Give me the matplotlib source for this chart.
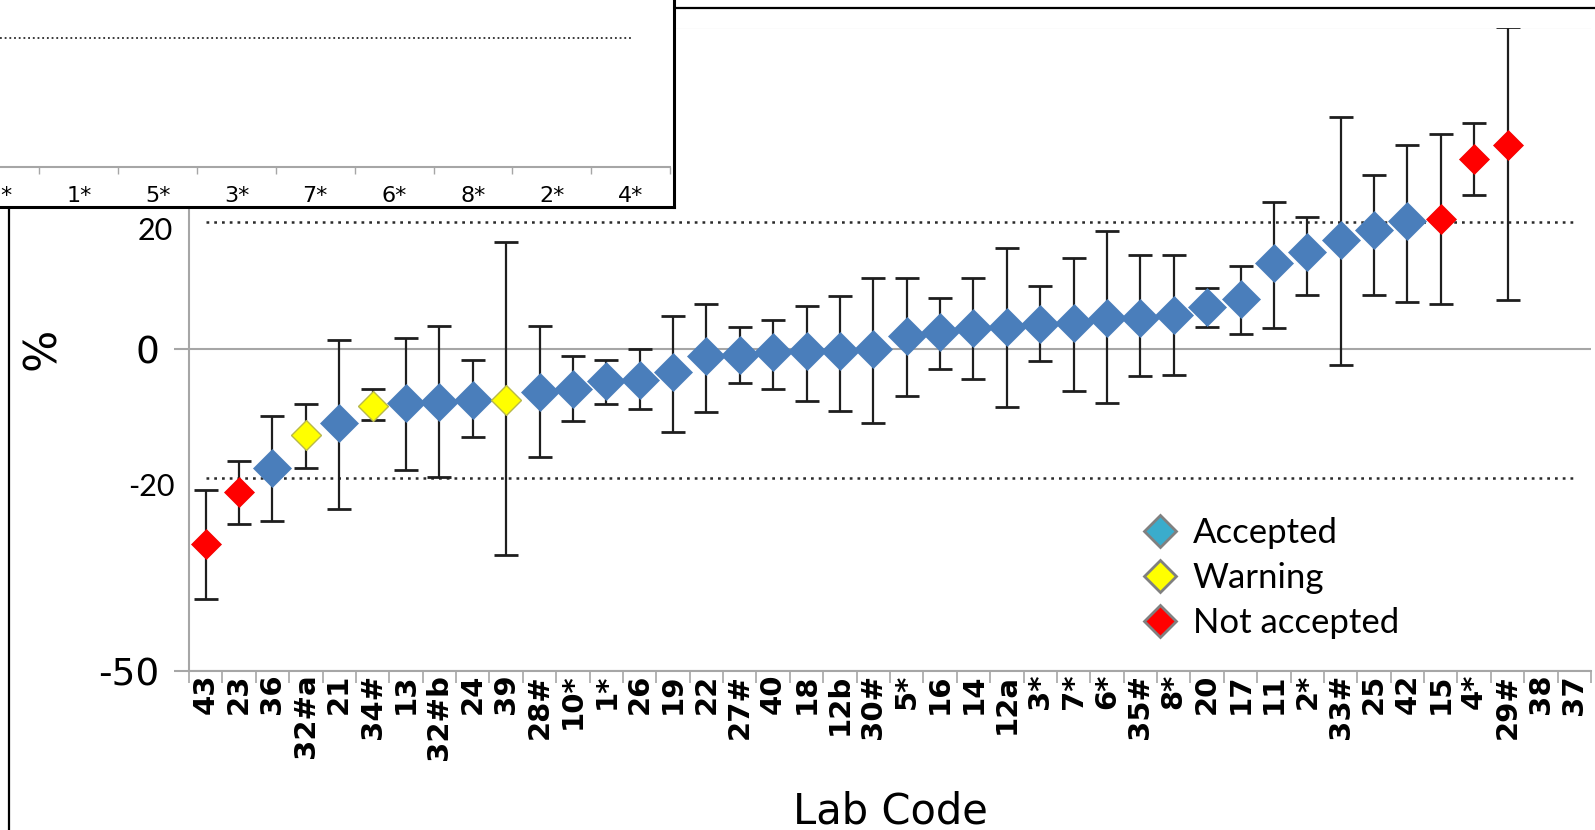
import numpy as np
import matplotlib.pyplot as plt
from matplotlib.lines import Line2D
from matplotlib.patches import Rectangle
from matplotlib.transforms import blended_transform_factory

W, H = 1595, 830

# ---- data ----
lab_codes = ["43", "23", "36", "32#a", "21", "34#", "13", "32#b", "24", "39",
             "28#", "10*", "1*", "26", "19", "22", "27#", "40", "18", "12b",
             "30#", "5*", "16", "14", "12a", "3*", "7*", "6*", "35#", "8*",
             "20", "17", "11", "2*", "33#", "25", "42", "15", "4*", "29#",
             "38", "37"]
deviation = [-30.3, -22.2, -18.5, -13.4, -11.5, -8.8, -8.4, -8.2, -7.9, -7.9,
             -6.6, -6.1, -4.9, -4.8, -3.5, -1.0, -0.9, -0.5, -0.2, -0.3,
             0.0, 2.1, 2.7, 3.3, 3.5, 4.0, 4.1, 4.8, 4.9, 5.3,
             6.5, 7.8, 13.4, 15.1, 17.0, 18.5, 20.0, 20.3, 29.5, 31.7,
             np.nan, np.nan]
upper = [-21.8, -17.4, -10.4, -8.5, 1.4, -6.2, 1.7, 3.6, -1.6, 16.7,
         3.6, -1.1, -1.6, 0.0, 5.2, 7.0, 3.4, 4.6, 6.7, 8.3,
         11.1, 11.1, 8.0, 11.1, 15.8, 9.8, 14.2, 18.4, 14.6, 14.6,
         9.5, 12.9, 22.9, 20.5, 36.1, 27.1, 31.7, 33.4, 35.2, 50.0,
         np.nan, np.nan]
lower = [-38.8, -27.1, -26.7, -18.5, -24.8, -11.0, -18.8, -19.9, -13.7, -31.9,
         -16.7, -11.1, -8.5, -9.3, -12.9, -9.8, -5.3, -6.2, -8.0, -9.6,
         -11.4, -7.3, -3.1, -4.7, -8.9, -1.8, -6.5, -8.3, -4.2, -4.0,
         3.4, 2.3, 3.3, 8.5, -2.5, 8.5, 7.3, 7.1, 24.0, 7.6,
         np.nan, np.nan]
# A = accepted, W = warning, N = not accepted
status = ["N", "N", "A", "W", "A", "W", "A", "A", "A", "W",
          "A", "A", "A", "A", "A", "A", "A", "A", "A", "A",
          "A", "A", "A", "A", "A", "A", "A", "A", "A", "A",
          "A", "A", "A", "A", "A", "A", "A", "N", "N", "N",
          "", ""]
limit_high = 19.7
limit_low = -20.0

# overlapping fragment of another chart (top left)
inset_codes = ["*", "1*", "5*", "3*", "7*", "6*", "8*", "2*", "4*"]
inset_limit = 77.5

fig = plt.figure(figsize=(W / 100, H / 100), dpi=100)
fig.patch.set_facecolor("white")

# frame of the main picture
fig.add_artist(Rectangle((9 / W, -0.1), 1.2, 1 - 8.5 / H + 0.1, transform=fig.transFigure,
                         fill=False, edgecolor="black", lw=1.6, zorder=0))

ax = fig.add_axes([189 / W, 1 - 671 / H, 1402 / W, 643.5 / H])
x = np.arange(len(lab_codes))
vals = np.array(deviation)
err = [vals - np.array(lower), np.array(upper) - vals]

ax.errorbar(x, vals, yerr=err, fmt="none", ecolor="#1e1e1e", elinewidth=1.6,
            capsize=8.5, capthick=2.0, zorder=3)
ax.plot([0, len(lab_codes) - 1], [limit_high, limit_high], color="#2a2a2a", lw=1.8,
        ls=(0, (1.1, 2.0)), zorder=2)
ax.plot([0, len(lab_codes) - 1], [limit_low, limit_low], color="#2a2a2a", lw=1.8,
        ls=(0, (1.1, 2.0)), zorder=2)

styles = {"A": ("#4a7ebb", "#4a7ebb", 19.5, 0.5),
          "W": ("#ffff00", "#b8b84a", 15.5, 1.0),
          "N": ("#ff0000", "#ee0000", 15, 0.5)}
st = np.array(status)
for key, (fc, ec, ms, mew) in styles.items():
    m = st == key
    ax.plot(x[m], vals[m], ls="none", marker="D", ms=ms, mfc=fc, mec=ec, mew=mew, zorder=4)

ax.set_xlim(-0.5, len(lab_codes) - 0.5)
ax.set_ylim(-50, 50)
ax.set_yticks([-50, 0, 50])
ax.set_yticklabels(["-50", "0", "50"])
ax.yaxis.grid(True, color="#a6a6a6", lw=1.5)
ax.set_axisbelow(True)
for s in ["top", "right"]:
    ax.spines[s].set_visible(False)
for s in ["left", "bottom"]:
    ax.spines[s].set_color("#a6a6a6")
    ax.spines[s].set_linewidth(1.5)
ax.tick_params(axis="y", length=11, width=1.5, color="#a6a6a6", pad=10, labelsize=27)

ax.set_xticks(x)
ax.set_xticklabels(lab_codes, rotation=90, fontsize=21, fontweight="bold")
ax.set_xticks(np.arange(-0.5, len(lab_codes)), minor=True)
ax.tick_params(axis="x", which="major", length=0, pad=2)
ax.tick_params(axis="x", which="minor", length=8.5, width=1.2, color="#a6a6a6")

ax.set_xlabel("Lab Code", fontsize=30, va="center")
ax.xaxis.set_label_coords(0.5, -0.219)
ax.set_ylabel("%", fontsize=32, va="center")
ax.yaxis.set_label_coords(-0.1045, 0.5)

tr = blended_transform_factory(ax.transAxes, ax.transData)
ax.text(-0.0114, 18.4, "20", transform=tr, ha="right", va="center", fontsize=22, family="Lato")
ax.text(-0.0100, -21.4, "-20", transform=tr, ha="right", va="center", fontsize=22, family="Lato")

handles = [Line2D([], [], ls="none", marker="D", ms=16, mfc=c, mec="#808080", mew=2)
           for c in ["#3aaccc", "#ffff00", "#ff0000"]]
ax.legend(handles, ["Accepted", "Warning", "Not accepted"], loc="upper left",
          bbox_to_anchor=(1144 / W, 1 - 517 / H), bbox_transform=fig.transFigure,
          frameon=False, prop={"family": "Lato", "size": 25}, borderpad=0,
          borderaxespad=0, handlelength=0.9, handletextpad=0.5, labelspacing=0.38)

# ---- inset fragment ----
box = fig.add_axes([-0.01, 1 - 207 / H, 674 / W + 0.01, 207 / H + 0.01], zorder=5)
box.set_facecolor("white")
box.set_xticks([])
box.set_yticks([])
for s in ["top", "left"]:
    box.spines[s].set_visible(False)
for s in ["right", "bottom"]:
    box.spines[s].set_color("black")
    box.spines[s].set_linewidth(2.2)

ins = fig.add_axes([0, 1 - 167 / H, 670 / W, 167 / H], zorder=6)
ins.patch.set_alpha(0)
xi = np.arange(len(inset_codes))
ins.plot([0, len(inset_codes) - 1], [inset_limit, inset_limit], color="#2a2a2a",
         lw=1.3, ls=(0, (1, 1.6)))
ins.set_xlim(4.7 / 79.4, len(inset_codes) - 0.5)
ins.set_ylim(0, 100)
ins.set_yticks([])
ins.set_xticks(xi)
ins.set_xticklabels(inset_codes, fontsize=16)
ins.get_xticklabels()[0].set_horizontalalignment("left")
ins.set_xticks(np.arange(0.5, len(inset_codes)), minor=True)
ins.tick_params(axis="x", which="major", length=0, pad=13.5)
ins.tick_params(axis="x", which="minor", length=5, width=1.0, color="#a6a6a6")
for s in ["top", "left", "right"]:
    ins.spines[s].set_visible(False)
ins.spines["bottom"].set_color("#a6a6a6")
ins.spines["bottom"].set_linewidth(1.5)

fig.savefig("out.png", dpi=100)
